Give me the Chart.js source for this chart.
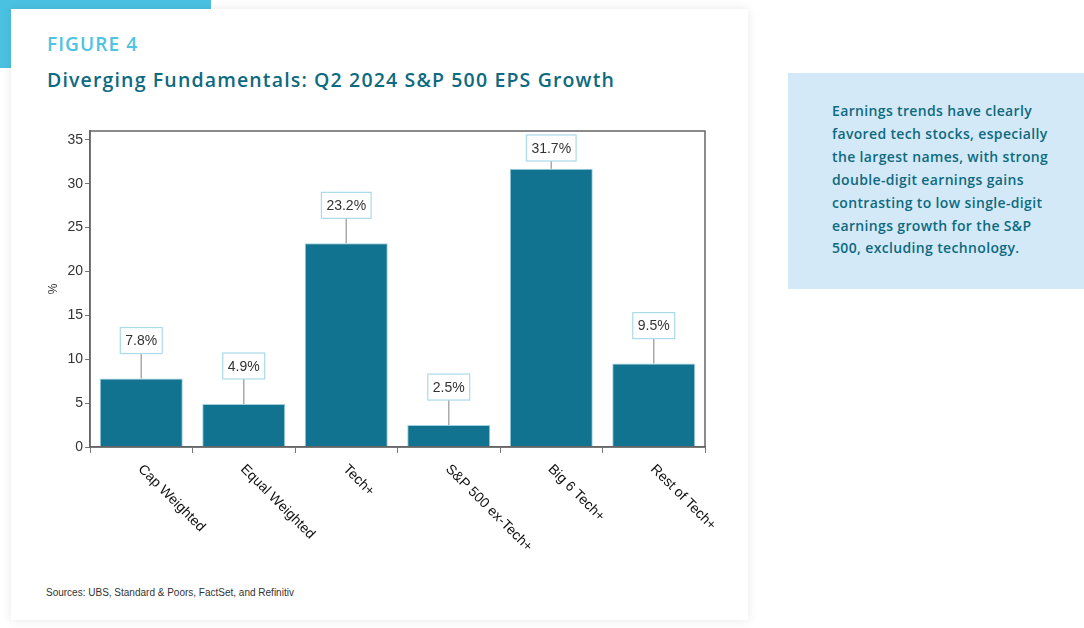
<!DOCTYPE html>
<html>
<head>
<meta charset="utf-8">
<script src="https://cdn.jsdelivr.net/npm/chart.js@4"></script>
<style>
  html, body { margin:0; padding:0; }
  body { width:1084px; height:628px; position:relative; background:#ffffff; overflow:hidden; font-family: "Liberation Sans", Arial, sans-serif; }
  .band { position:absolute; left:0; top:0; width:211px; height:68px; background:#4bc1e2; }
  .card { position:absolute; left:11px; top:9px; width:737px; height:611px; background:#fff; box-shadow:0 0 10px rgba(0,0,0,0.09); }
  .fig { position:absolute; left:47px; top:31px; font-family:"Open Sans", sans-serif; font-size:19px; font-weight:600; color:#4dc3e3; letter-spacing:1.1px; }
  .title { position:absolute; left:47px; top:66px; font-family:"Open Sans", sans-serif; font-size:19.5px; font-weight:600; color:#0e6a80; letter-spacing:1.15px; white-space:nowrap; }
  .src { position:absolute; left:46px; top:587px; font-family:"Liberation Sans", Arial, sans-serif; font-size:10px; color:#333; }
  .note { position:absolute; left:788px; top:73px; width:296px; height:216px; background:#d3e9f7; }
  .note p { margin:0; position:absolute; left:44px; top:27px; width:250px; font-family:"Open Sans", sans-serif; font-weight:600; font-size:14px; line-height:22.9px; color:#0e6a80; letter-spacing:0.35px; white-space:nowrap; }
  .wrap { position:absolute; left:20px; top:110px; width:720px; height:460px; }
</style>
</head>
<body>
<div class="band"></div>
<div class="card"></div>
<div class="fig">FIGURE 4</div>
<div class="title">Diverging Fundamentals: Q2 2024 S&amp;P 500 EPS Growth</div>
<div class="note"><p>Earnings trends have clearly<br>favored tech stocks, especially<br>the largest names, with strong<br>double-digit earnings gains<br>contrasting to low single-digit<br>earnings growth for the S&amp;P<br>500, excluding technology.</p></div>
<div class="src">Sources: UBS, Standard &amp; Poors, FactSet, and Refinitiv</div>
<div class="wrap"><canvas id="c" width="720" height="460"></canvas></div>
<script>
const categories = ["Cap Weighted", "Equal Weighted", "Tech+", "S&P 500 ex-Tech+", "Big 6 Tech+", "Rest of Tech+"];
const epsGrowth = [7.8, 4.9, 23.2, 2.5, 31.7, 9.5];
const valueLabels = ["7.8%", "4.9%", "23.2%", "2.5%", "31.7%", "9.5%"];
const yTicks = [0, 5, 10, 15, 20, 25, 30, 35];

const framePlugin = {
  id: 'frame',
  afterDatasetsDraw(chart) {
    const {ctx, chartArea: a} = chart;
    ctx.save();
    ctx.strokeStyle = '#666';
    ctx.lineWidth = 1.5;
    ctx.strokeRect(a.left, a.top, a.right - a.left, a.bottom - a.top);
    ctx.restore();
  }
};

const labelPlugin = {
  id: 'boxLabels',
  afterDraw(chart) {
    const {ctx, chartArea: a} = chart;
    const meta = chart.getDatasetMeta(0);
    const xs = chart.scales.x;
    ctx.save();
    ctx.font = '14px "Liberation Sans", Arial, sans-serif';
    meta.data.forEach((bar, i) => {
      const txt = valueLabels[i];
      const w = ctx.measureText(txt).width + 10;
      const h = 26;
      let bottom = bar.y - 25;
      if (bottom - h < a.top + 4) bottom = a.top + 4 + h;
      const top = bottom - h;
      ctx.strokeStyle = '#aaaaaa';
      ctx.lineWidth = 1.5;
      ctx.beginPath();
      ctx.moveTo(bar.x, bottom);
      ctx.lineTo(bar.x, bar.y);
      ctx.stroke();
      ctx.fillStyle = '#ffffff';
      ctx.fillRect(bar.x - w/2, top, w, h);
      ctx.strokeStyle = '#a9dbe8';
      ctx.lineWidth = 1.2;
      ctx.strokeRect(bar.x - w/2, top, w, h);
      ctx.fillStyle = '#333333';
      ctx.textAlign = 'center';
      ctx.textBaseline = 'middle';
      ctx.fillText(txt, bar.x, top + h/2 + 1);
    });
    ctx.font = '14px "Liberation Sans", Arial, sans-serif';
    ctx.fillStyle = '#111';
    ctx.textAlign = 'left';
    ctx.textBaseline = 'middle';
    categories.forEach((c, i) => {
      const x = xs.getPixelForValue(i);
      ctx.save();
      ctx.translate(x - 1, a.bottom + 20);
      ctx.rotate(Math.PI / 4);
      ctx.fillText(c, 0, 0);
      ctx.restore();
    });
    ctx.restore();
  }
};

new Chart(document.getElementById('c'), {
  type: 'bar',
  data: {
    labels: categories,
    datasets: [{
      data: epsGrowth,
      backgroundColor: '#11738f',
      borderColor: '#9fd0de',
      borderWidth: 1,
      barPercentage: 0.81,
      categoryPercentage: 1.0
    }]
  },
  options: {
    responsive: false,
    animation: false,
    devicePixelRatio: 1,
    layout: { padding: { left: 26, top: 21, right: 35, bottom: 10 } },
    plugins: { legend: { display: false }, tooltip: { enabled: false } },
    scales: {
      x: {
        grid: { display: true, drawOnChartArea: false, drawTicks: true, tickLength: 6, color: '#777', offset: true },
        border: { display: true, color: '#666', width: 1.5 },
        ticks: { display: false },
        afterFit(s) { s.height = 113; }
      },
      y: {
        min: 0, max: 36,
        afterBuildTicks(s) { s.ticks = yTicks.map(v => ({ value: v })); },
        grid: { display: true, drawOnChartArea: false, drawTicks: true, tickLength: 5, color: '#777' },
        border: { display: true, color: '#666', width: 1.5 },
        ticks: { color: '#333', font: { size: 14, family: '"Liberation Sans", Arial, sans-serif' }, padding: 2 },
        title: { display: true, text: '%', color: '#333', font: { size: 12, family: '"Liberation Sans", Arial, sans-serif' }, padding: 0 },
        afterFit(s) { s.width = 44; }
      }
    }
  },
  plugins: [framePlugin, labelPlugin]
});
</script>
</body>
</html>
